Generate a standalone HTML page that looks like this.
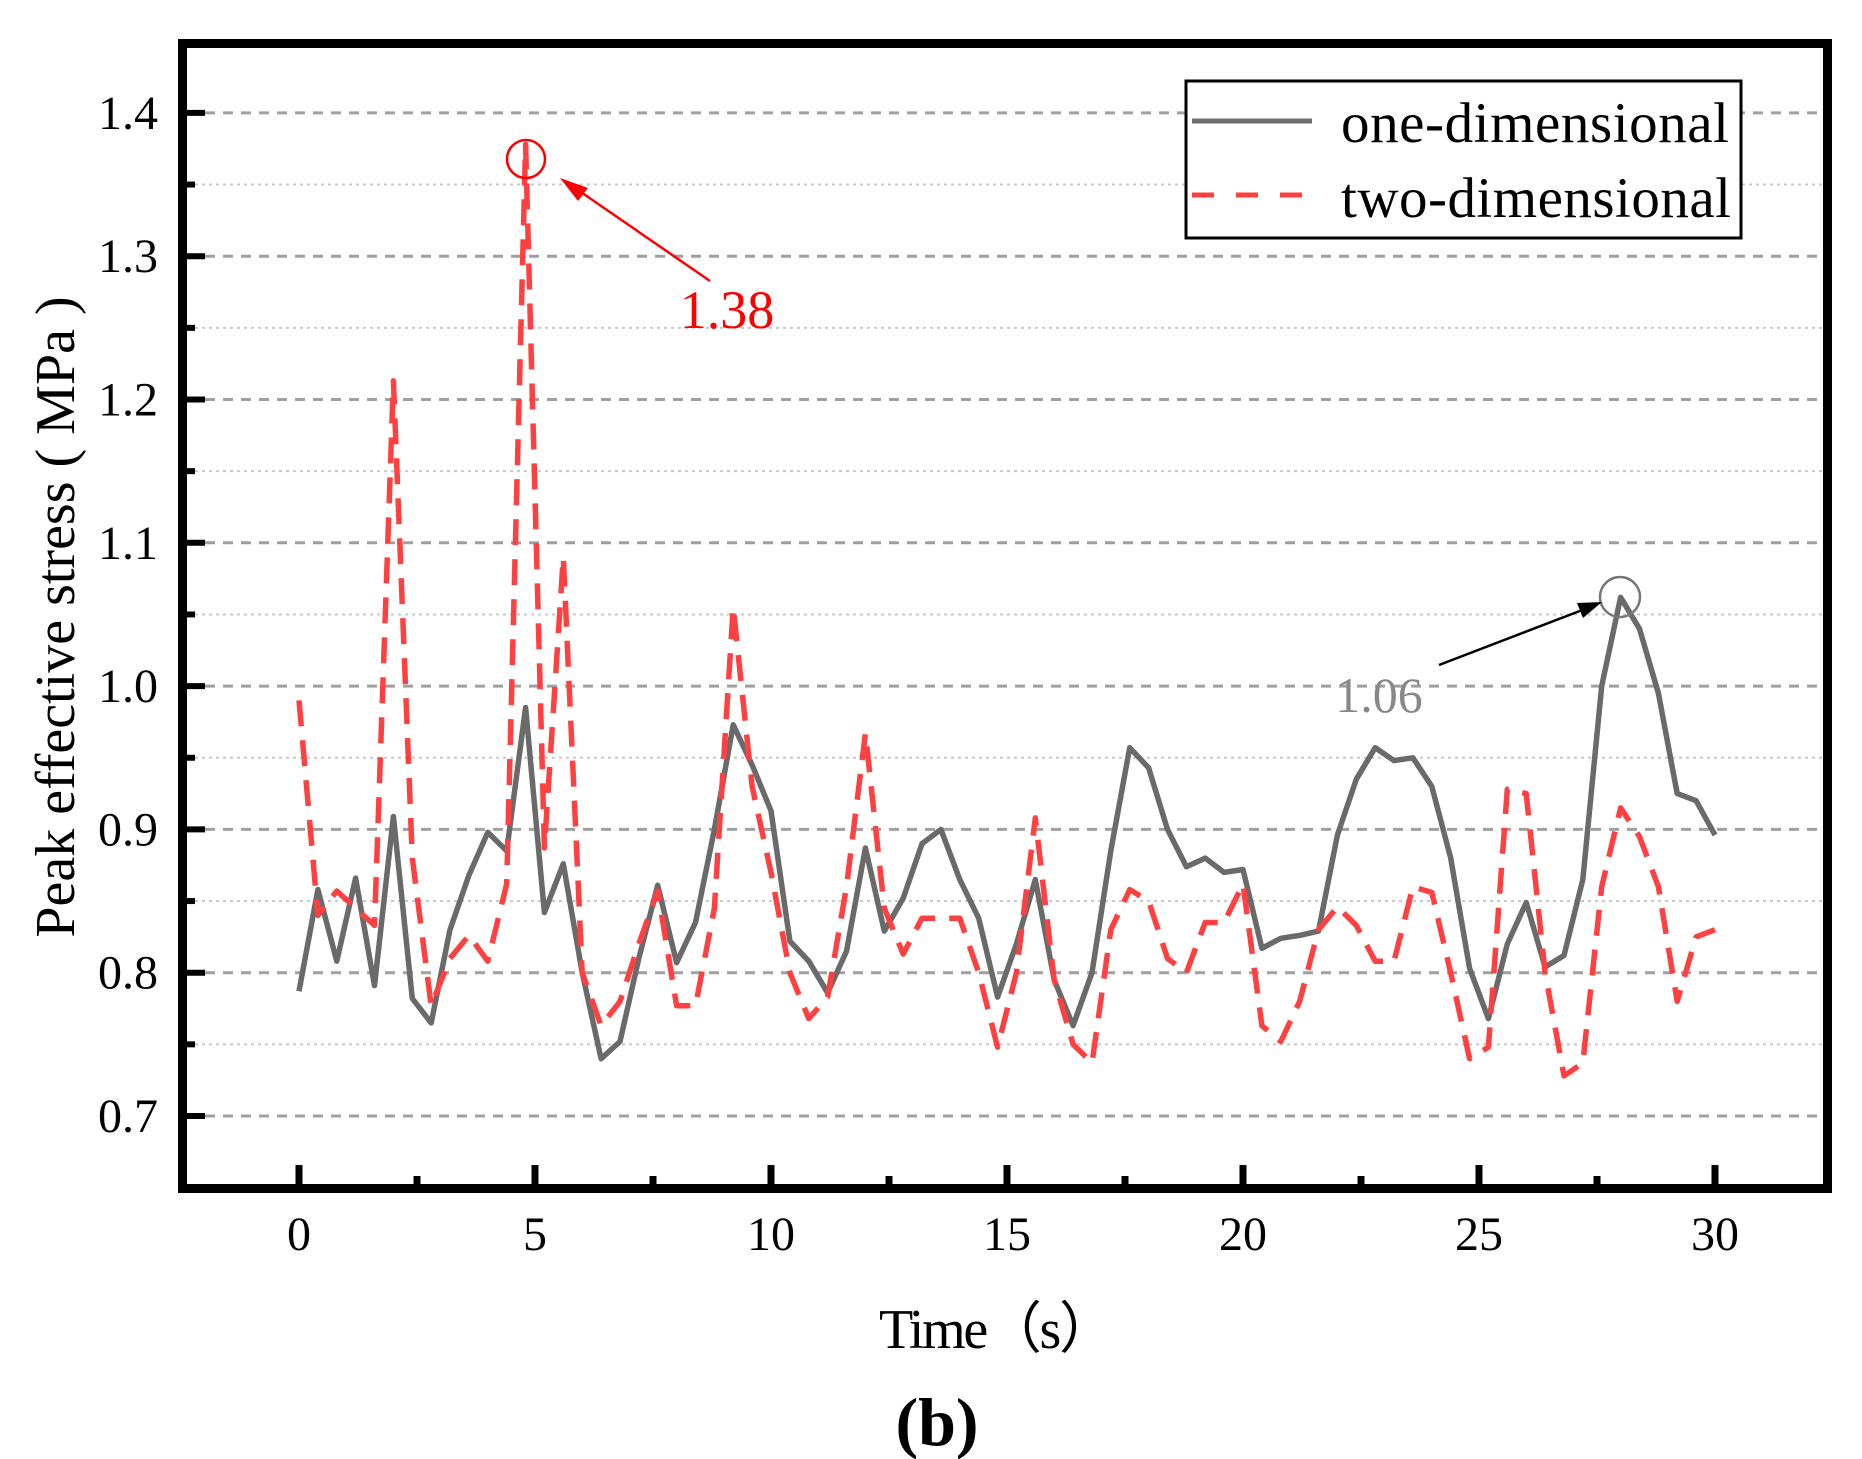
<!DOCTYPE html>
<html><head><meta charset="utf-8"><style>
html,body{margin:0;padding:0;background:#fff;}
svg{display:block;font-family:"Liberation Serif",serif;}
</style></head><body>
<svg id="chart" width="1862" height="1459" viewBox="0 0 1862 1459" xmlns="http://www.w3.org/2000/svg">
<g id="grid"></g>
<g id="series"></g>
<g id="axes"></g>
<rect x="182.5" y="43.5" width="1645" height="1145" fill="none" stroke="#000" stroke-width="9"/>
<g>
<rect x="1186" y="81" width="555" height="157" fill="#fff" stroke="#000" stroke-width="3"/>
<line x1="1192" y1="121" x2="1312" y2="121" stroke="#6e6e6e" stroke-width="5"/>
<text x="1341" y="142" font-size="57" textLength="388">one-dimensional</text>
<line x1="1192" y1="195" x2="1312" y2="195" stroke="#ff4040" stroke-width="5" stroke-dasharray="22 22"/>
<text x="1341" y="217" font-size="57" textLength="390">two-dimensional</text>
</g>
<g>
<circle cx="526" cy="159" r="19" fill="none" stroke="#ff0000" stroke-width="2.5"/>
<line x1="710" y1="281" x2="575" y2="188" stroke="#ff0000" stroke-width="2.5"/>
<polygon points="560,178 588,188 578,201" fill="#ff0000"/>
<text x="727" y="328" font-size="54" fill="#ff0000" text-anchor="middle">1.38</text>
</g>
<g>
<circle cx="1620" cy="597" r="20" fill="none" stroke="#777" stroke-width="2.5"/>
<line x1="1439" y1="665" x2="1585" y2="609" stroke="#000" stroke-width="2.5"/>
<polygon points="1602,602 1577,603 1583,618" fill="#000"/>
<text x="1379" y="712" font-size="50" fill="#888" text-anchor="middle">1.06</text>
</g>
<text transform="translate(74,617) rotate(-90)" font-size="56" text-anchor="middle">Peak effective stress ( MPa )</text>
<text x="997" y="1348" font-size="56" text-anchor="middle" textLength="236">Time（s）</text>
<text x="937" y="1445" font-size="68" font-weight="bold" text-anchor="middle">(b)</text>
</svg>
<script>
const times = [0,0.4,0.8,1.2,1.6,2.0,2.4,2.8,3.2,3.6,4.0,4.4,4.8,5.2,5.6,6.0,6.4,6.8,7.2,7.6,8.0,8.4,8.8,9.2,9.6,10.0,10.4,10.8,11.2,11.6,12.0,12.4,12.8,13.2,13.6,14.0,14.4,14.8,15.2,15.6,16.0,16.4,16.8,17.2,17.6,18.0,18.4,18.8,19.2,19.6,20.0,20.4,20.8,21.2,21.6,22.0,22.4,22.8,23.2,23.6,24.0,24.4,24.8,25.2,25.6,26.0,26.4,26.8,27.2,27.6,28.0,28.4,28.8,29.2,29.6,30.0];
const oneDim = [0.787,0.858,0.808,0.866,0.791,0.909,0.782,0.765,0.830,0.868,0.898,0.885,0.985,0.842,0.876,0.800,0.740,0.752,0.810,0.861,0.807,0.835,0.900,0.973,0.945,0.913,0.822,0.808,0.786,0.815,0.887,0.829,0.852,0.890,0.900,0.865,0.838,0.783,0.820,0.865,0.795,0.763,0.800,0.885,0.957,0.943,0.900,0.874,0.880,0.870,0.872,0.817,0.824,0.826,0.829,0.896,0.935,0.957,0.948,0.950,0.930,0.880,0.803,0.768,0.820,0.849,0.804,0.812,0.865,1.000,1.062,1.040,0.995,0.925,0.920,0.896];
const twoDim = [0.990,0.840,0.857,0.845,0.833,1.213,0.880,0.777,0.810,0.826,0.808,0.862,1.378,0.887,1.090,0.800,0.763,0.780,0.820,0.857,0.777,0.777,0.845,1.055,0.930,0.870,0.800,0.768,0.783,0.860,0.967,0.845,0.813,0.838,0.838,0.838,0.800,0.748,0.800,0.908,0.795,0.750,0.737,0.830,0.858,0.850,0.810,0.800,0.835,0.835,0.862,0.763,0.752,0.780,0.830,0.846,0.833,0.808,0.808,0.860,0.856,0.800,0.740,0.748,0.928,0.925,0.800,0.728,0.737,0.860,0.915,0.895,0.860,0.780,0.825,0.830];
const yTicks = [0.7,0.8,0.9,1.0,1.1,1.2,1.3,1.4];
const yTickLabels = ["0.7","0.8","0.9","1.0","1.1","1.2","1.3","1.4"];
const yMinor = [0.65,0.75,0.85,0.95,1.05,1.15,1.25,1.35,1.45];
const xTicks = [0,5,10,15,20,25,30];
const xTickLabels = ["0","5","10","15","20","25","30"];
const xMinor = [2.5,7.5,12.5,17.5,22.5,27.5];

const NS='http://www.w3.org/2000/svg';
function xs(t){return 299+t*47.2;}
function ys(v){return 1116-(v-0.7)*1433;}
function mk(tag,parent,attrs){const e=document.createElementNS(NS,tag);for(const k in attrs)e.setAttribute(k,attrs[k]);parent.appendChild(e);return e;}
const grid=document.getElementById('grid'),axes=document.getElementById('axes'),series=document.getElementById('series');
yTicks.forEach((v,i)=>{
  const g=mk('line',grid,{x1:187,x2:1823,y1:ys(v),y2:ys(v),stroke:'#a0a0a0','stroke-width':3,'stroke-dasharray':'10 8'});
  
  
  const t=mk('line',axes,{x1:187,x2:205,y1:ys(v),y2:ys(v),stroke:'#000','stroke-width':6});
  
  
  const l=mk('text',axes,{x:158,y:ys(v)+16,'font-size':48,'text-anchor':'end'});
  l.textContent=yTickLabels[i];
  
  
});
yMinor.forEach(v=>{
  if(ys(v)>1184||ys(v)<48)return;
  const g=mk('line',grid,{x1:195,x2:1823,y1:ys(v),y2:ys(v),stroke:'#c8c8c8','stroke-width':2,'stroke-dasharray':'3 4'});
  
  
  const t=mk('line',axes,{x1:187,x2:195,y1:ys(v),y2:ys(v),stroke:'#000','stroke-width':6});
  
  
});
xTicks.forEach((v,i)=>{
  const t=mk('line',axes,{x1:xs(v),x2:xs(v),y1:1184,y2:1165,stroke:'#000','stroke-width':7});
  
  
  const l=mk('text',axes,{x:xs(v),y:1250,'font-size':48,'text-anchor':'middle'});
  l.textContent=xTickLabels[i];
  
  
});
xMinor.forEach(v=>{
  const t=mk('line',axes,{x1:xs(v),x2:xs(v),y1:1184,y2:1176,stroke:'#000','stroke-width':7});
  
  
});
function path(vals){return vals.map((v,i)=>(i?'L':'M')+xs(times[i]).toFixed(1)+','+ys(v).toFixed(1)).join(' ');}
const p1=mk('path',series,{d:path(oneDim),fill:'none',stroke:'#6a6a6a','stroke-width':5.5,'stroke-linejoin':'round'});


const p2=mk('path',series,{d:path(twoDim),fill:'none',stroke:'#ff4040','stroke-width':5.5,'stroke-dasharray':'26 14','stroke-linejoin':'round'});


</script>
</body></html>
